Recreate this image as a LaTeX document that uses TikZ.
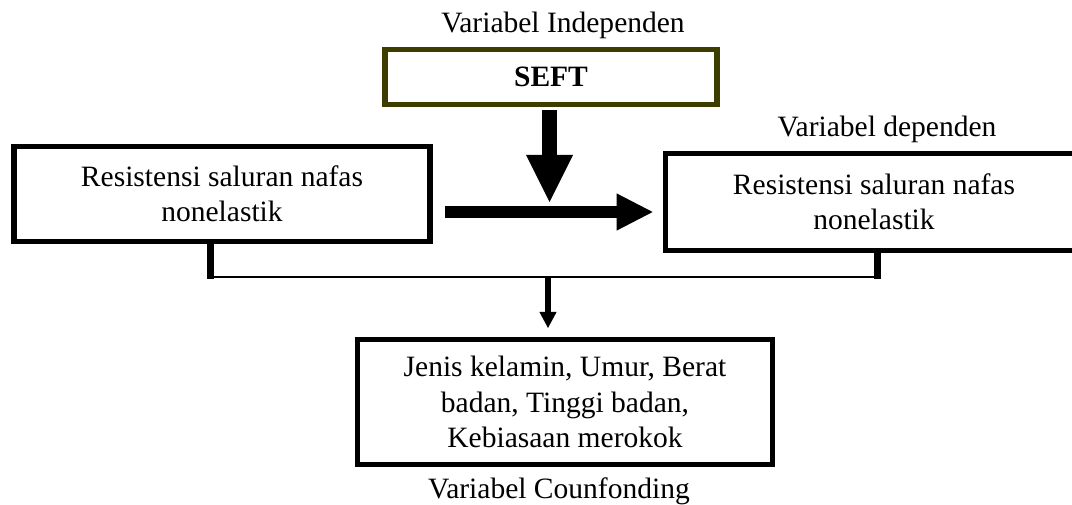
\documentclass[tikz,border=0pt]{standalone}
\usepackage{fontspec}
\setmainfont{Liberation Serif}
\usetikzlibrary{arrows.meta}
\definecolor{seftolive}{RGB}{61,61,0}

\begin{document}
\begin{tikzpicture}[box/.style={draw,line width=3.6pt,minimum width=10.4cm,minimum height=2.37cm,align=center,inner sep=0pt,font=\fontsize{21}{25}\selectfont},sbox/.style={box,draw=seftolive,minimum width=8.3cm,minimum height=1.375cm,font=\fontsize{21}{25}\selectfont\bfseries},lbl/.style={anchor=base,font=\fontsize{21}{25}\selectfont},bigarrow/.style={line width=0.36cm,-{Triangle[length=1.175cm,width=1.175cm,line width=0pt]}},midarrow/.style={line width=0.3cm,-{Triangle[length=0.9cm,width=0.93cm,line width=0pt]}},stub/.style={line width=0.175cm},link/.style={line width=1.5pt},smallarrow/.style={line width=0.13cm,-{Triangle[length=0.4cm,width=0.43cm,line width=0pt]}}]
\clip (0,0) rectangle (26.8,-12.625);
\node[lbl] (indep) at (14.075,-0.825) {Variabel Independen};
\node[sbox] (seft) at (13.775,-1.925) {SEFT};
\node[lbl] (dep) at (22.175,-3.425) {Variabel dependen};
\node[box] (lbox) at (5.55,-4.85) {Resistensi saluran nafas\\nonelastik};
\node[box,minimum width=10.44cm,minimum height=2.41cm] (rbox) at (21.85,-5.05) {Resistensi saluran nafas\\nonelastik};
\node[box,minimum width=10.375cm,minimum height=3.125cm] (cbox) at (14.125,-10.05) {Jenis kelamin, Umur, Berat\\badan, Tinggi badan,\\Kebiasaan merokok};
\node[lbl] (conf) at (13.975,-12.45) {Variabel Counfonding};
\coordinate (join) at (13.74,-5.3);
\coordinate (bl) at (5.25,-6.925);
\coordinate (br) at (21.925,-6.925);
\coordinate (bm) at (13.7,-6.925);
\draw[bigarrow,shorten <=0.075cm] (seft.south -| join) -- ([yshift=0.25cm]join);
\draw[midarrow,shorten <=0.3cm,shorten >=0.25cm] (lbox.east |- join) -- (rbox.west |- join);
\draw[stub] (lbox.south -| bl) -- ([yshift=-0.04cm]bl);
\draw[stub] (rbox.south -| br) -- ([yshift=-0.04cm]br);
\draw[link] (bl) -- (br);
\draw[smallarrow,shorten >=0.225cm] (bm) -- (bm |- cbox.north);
\end{tikzpicture}
\end{document}
